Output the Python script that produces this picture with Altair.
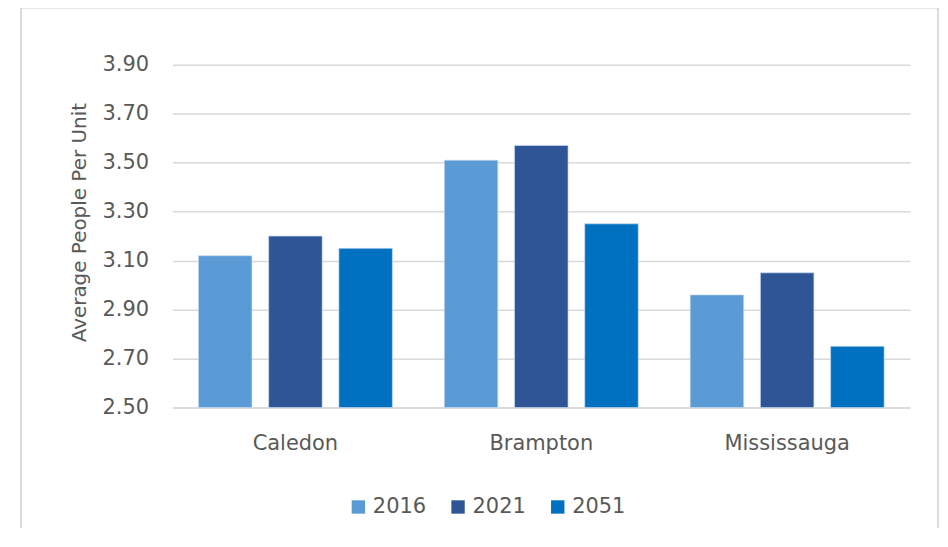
import altair as alt
import pandas as pd

cities = ["Caledon", "Brampton", "Mississauga"]
years = ["2016", "2021", "2051"]
v2016 = [3.12, 3.51, 2.96]
v2021 = [3.20, 3.57, 3.05]
v2051 = [3.15, 3.25, 2.75]
y_ticks = [2.5, 2.7, 2.9, 3.1, 3.3, 3.5, 3.7, 3.9]
colors = ["#5B9BD5", "#2F5597", "#0070C0"]

rows = []
for yr, vals in zip(years, [v2016, v2021, v2051]):
    for c, v in zip(cities, vals):
        rows.append({"City": c, "Year": yr, "Value": v, "Base": 2.5})
df = pd.DataFrame(rows)

FONT = "DejaVu Sans"
TXT = "#595959"
GRID = "#D9D9D9"

bars = alt.Chart(df).mark_bar(stroke="#C9DDF2", strokeWidth=0.8, strokeOpacity=0.8).encode(
    x=alt.X("City:N", sort=cities,
            scale=alt.Scale(paddingInner=0, paddingOuter=0),
            axis=alt.Axis(title=None, labelAngle=0, ticks=False, domain=True,
                          domainColor=GRID, domainWidth=1.5,
                          labelFont=FONT, labelFontSize=21, labelColor=TXT,
                          labelPadding=25)),
    xOffset=alt.XOffset("Year:N", sort=years,
                        scale=alt.Scale(paddingInner=0.238, paddingOuter=0.37)),
    y=alt.Y("Value:Q", scale=alt.Scale(domain=[2.5, 3.9], nice=False, zero=False),
            axis=alt.Axis(title="Average People Per Unit", values=y_ticks, format=".2f",
                          ticks=False, domain=False, gridColor=GRID, gridWidth=1.5,
                          labelFont=FONT, labelFontSize=21, labelColor=TXT,
                          labelPadding=24, titleFont=FONT, titleFontSize=20,
                          titleFontWeight="normal", titleColor=TXT, titlePadding=12,
                          titleY=158)),
    y2=alt.Y2("Base:Q"),
    color=alt.Color("Year:N", sort=years,
                    scale=alt.Scale(domain=years, range=colors),
                    legend=alt.Legend(title=None, orient="none", direction="horizontal",
                                      legendX=176, legendY=433, symbolType="square",
                                      symbolSize=180, symbolStrokeWidth=0,
                                      labelFont=FONT, labelFontSize=21, labelColor=TXT,
                                      labelOffset=4, columnPadding=21)),
)

frame = alt.Chart(pd.DataFrame({"a": [0]})).mark_rect(
    fill=None, stroke="#D0D0D0", strokeWidth=1.5
).encode(
    x=alt.value(21 - 173), x2=alt.value(941 - 173),
    y=alt.value(7 - 64), y2=alt.value(600 - 64),
)

chart = alt.layer(frame, bars).properties(
    width=740, height=344,
    autosize=alt.AutoSizeParams(type="none"),
    padding={"left": 165, "top": 56, "right": 30, "bottom": 120},
    background="white",
).configure_view(stroke=None)

chart.save("out.html", embed_options={"renderer": "svg", "actions": False})
